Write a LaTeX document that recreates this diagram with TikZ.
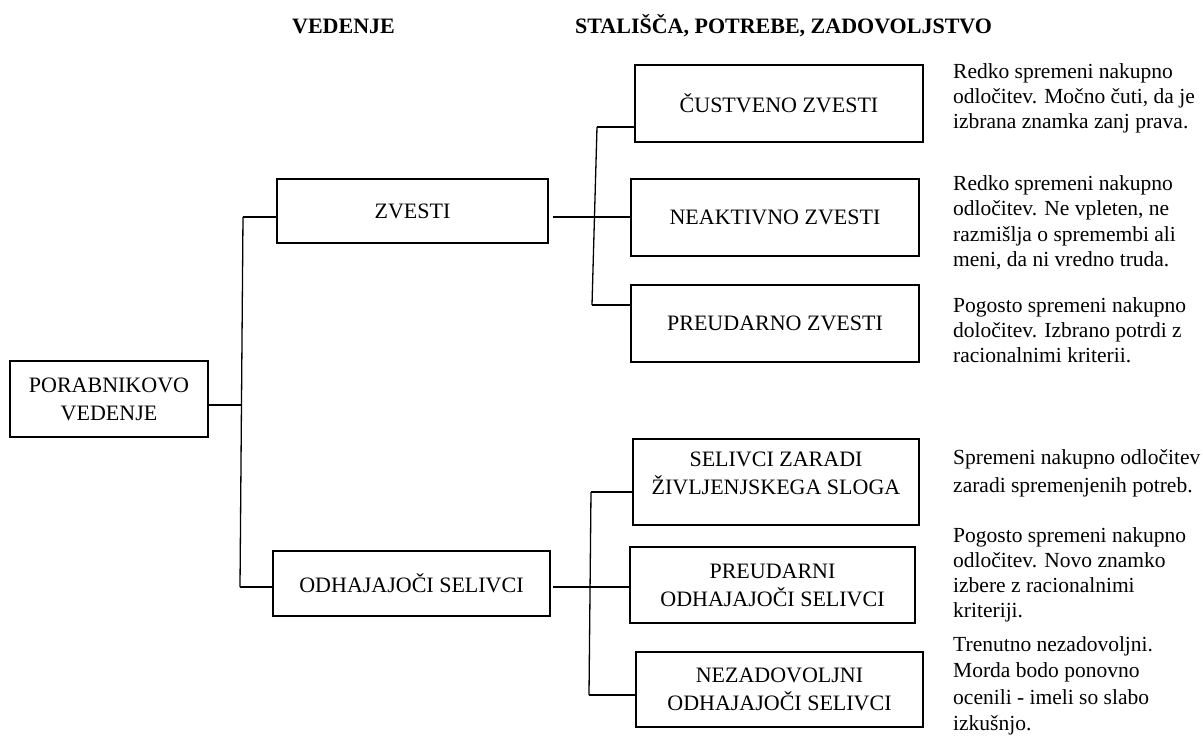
\documentclass[tikz,border=0pt]{standalone}
\usepackage{fontspec}
\setmainfont{Liberation Serif}
\newcommand{\dsc}[1]{\begin{tabular}[t]{@{}l@{}}#1\end{tabular}}
\begin{document}
\begin{tikzpicture}[x=1pt,y=-1pt,
  box/.style={draw=black, line width=1.3pt, inner sep=0pt, align=center,
              font=\fontsize{22}{28}\selectfont, text=black},
  hdr/.style={font=\bfseries\fontsize{22}{26}\selectfont, inner sep=0pt},
  desc/.style={inner sep=0pt, anchor=base west},
  conn/.style={line width=1.3pt, black}]
\useasboundingbox (0,0) rectangle (1203,736);
\fill[white] (0,0) rectangle (1203,736);

% headers
\node[hdr, anchor=base] (h1) at (343.5,33) {VEDENJE};
\node[hdr, anchor=base west] (h2) at (575,33) {STALIŠČA, POTREBE, ZADOVOLJSTVO};

% boxes
\node[box, minimum width=198, minimum height=76] (por) at (109,399) {PORABNIKOVO\\VEDENJE};
\node[box, minimum width=271, minimum height=64] (zv) at (412.5,211) {ZVESTI};
\node[box, minimum width=277, minimum height=65] (odh) at (411.5,583.5) {ODHAJAJOČI SELIVCI};
\node[box, minimum width=288, minimum height=77] (cus) at (779,103.5) {ČUSTVENO ZVESTI};
\node[box, minimum width=288, minimum height=77] (nea) at (775,217.5) {NEAKTIVNO ZVESTI};
\node[box, minimum width=288, minimum height=77] (pre) at (775,323.5) {PREUDARNO ZVESTI};
\node[box, minimum width=286, minimum height=86,
      label={[inner sep=0pt, align=center, font=\fontsize{22}{28}\selectfont, yshift=9pt]center:{SELIVCI ZARADI\\ŽIVLJENJSKEGA SLOGA}}] (sel) at (776,482) {};
\node[box, minimum width=285, minimum height=76] (pod) at (772.5,585) {PREUDARNI\\ODHAJAJOČI SELIVCI};
\node[box, minimum width=287, minimum height=75] (nez) at (779.5,689.5) {NEZADOVOLJNI\\ODHAJAJOČI SELIVCI};

% bus coordinates
\coordinate (b1t) at (243,217);
\coordinate (b1m) at (241.5,405);
\coordinate (b1b) at (240,587);
\coordinate (b2t) at (597,127);
\coordinate (b2m) at (595,217);
\coordinate (b2b) at (592,305);
\coordinate (b3t) at (591,492);
\coordinate (b3m) at (590,587);
\coordinate (b3b) at (589,695);

% connectors level 1
\draw[conn] (b1t) -- (b1b);
\draw[conn] (por.east |- b1m) -- (b1m);
\draw[conn] (b1t) -- (zv.west |- b1t);
\draw[conn] (b1b) -- (odh.west |- b1b);

% connectors level 2 (upper)
\draw[conn] (b2t) -- (b2b);
\draw[conn] ([xshift=4pt]zv.east |- b2m) -- (nea.west |- b2m);
\draw[conn] (b2t) -- (cus.west |- b2t);
\draw[conn] (b2b) -- (pre.west |- b2b);

% connectors level 2 (lower)
\draw[conn] (b3t) -- (b3b);
\draw[conn] ([xshift=2pt]odh.east |- b3m) -- (pod.west |- b3m);
\draw[conn] (b3t) -- (sel.west |- b3t);
\draw[conn] (b3b) -- (nez.west |- b3b);

% descriptions
\node[desc, font=\fontsize{21.5}{25}\selectfont] (d1) at (953,78.5)
  {\dsc{Redko spremeni nakupno\\odločitev. Močno čuti, da je\\izbrana znamka zanj prava.}};
\node[desc, font=\fontsize{21.5}{25.5}\selectfont] (d2) at (953,190)
  {\dsc{Redko spremeni nakupno\\odločitev. Ne vpleten, ne\\razmišlja o spremembi ali\\meni, da ni vredno truda.}};
\node[desc, font=\fontsize{21.5}{25}\selectfont] (d3) at (953,312)
  {\dsc{Pogosto spremeni nakupno\\določitev. Izbrano potrdi z\\racionalnimi kriterii.}};
\node[desc, font=\fontsize{21.5}{28}\selectfont] (d4) at (953,464)
  {\dsc{Spremeni nakupno odločitev\\zaradi spremenjenih potreb.}};
\node[desc, font=\fontsize{21.5}{25}\selectfont] (d5) at (953,542)
  {\dsc{Pogosto spremeni nakupno\\odločitev. Novo znamko\\izbere z racionalnimi\\kriteriji.}};
\node[desc, font=\fontsize{21.5}{26.5}\selectfont] (d6) at (953,651)
  {\dsc{Trenutno nezadovoljni.\\Morda bodo ponovno\\ocenili - imeli so slabo\\izkušnjo.}};
\end{tikzpicture}
\end{document}
